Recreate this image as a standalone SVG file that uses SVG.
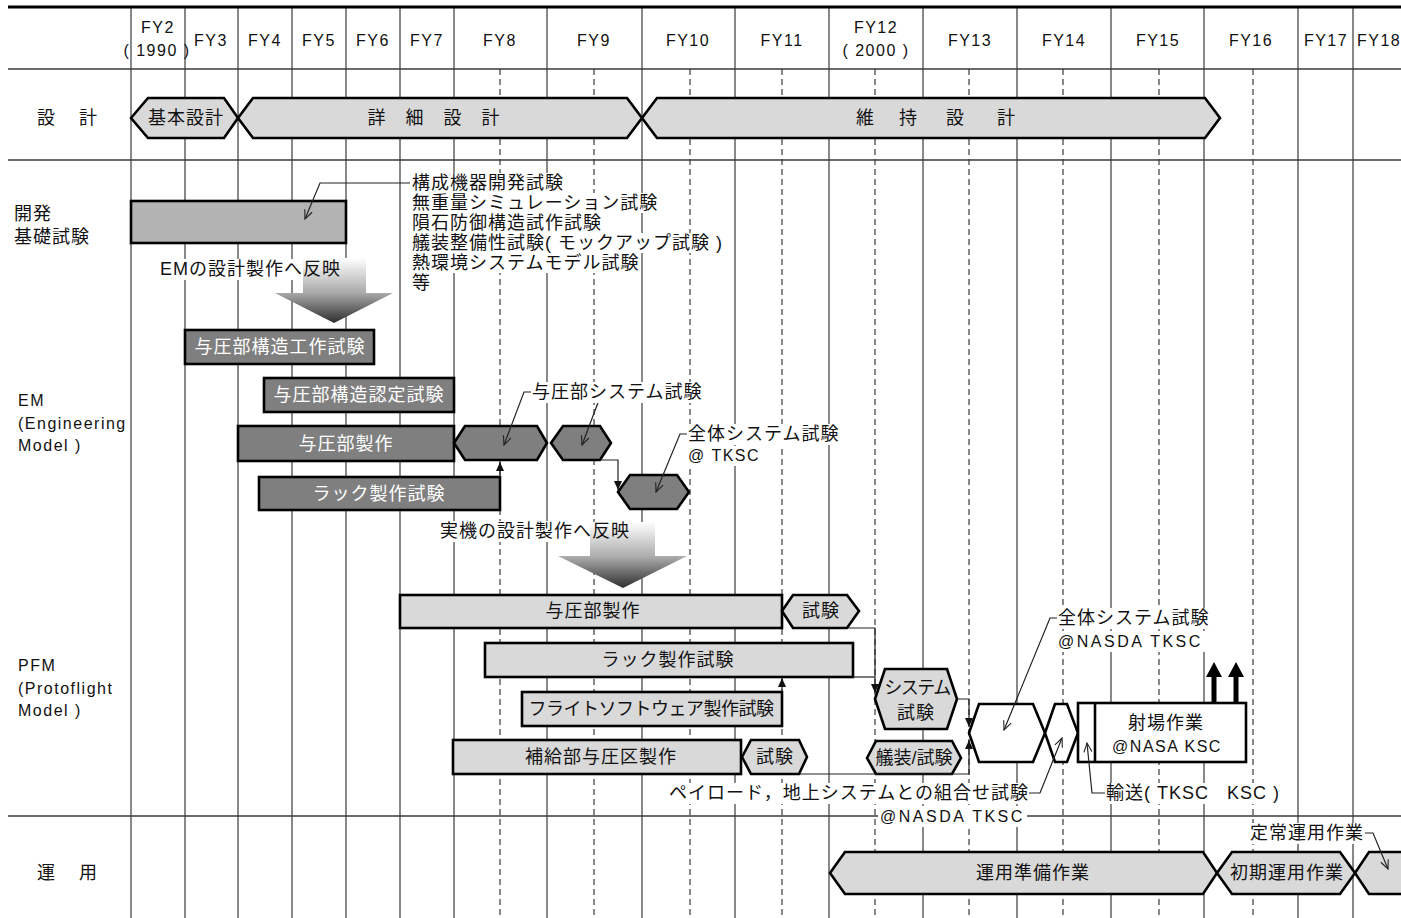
<svg xmlns="http://www.w3.org/2000/svg" width="1401" height="918" viewBox="0 0 1401 918">
<defs>
<style>
.g{stroke:#3a3a3a;stroke-width:1.2}
.d{stroke:#3a3a3a;stroke-width:1.2;stroke-dasharray:6 4}
.sep{stroke:#3a3a3a;stroke-width:1.5}
.n{stroke:#000;stroke-width:2.6;stroke-linejoin:miter}
.f1{fill:#d9d9d9}
.f2{fill:#b3b3b3}
.f3{fill:#7f7f7f}
.f4{fill:#fff}
text{font-family:"Liberation Sans","Noto Sans CJK JP",sans-serif;font-size:18px;letter-spacing:1px;fill:#111}
.h{font-size:16px;letter-spacing:1.5px}
.wide{letter-spacing:2.5px}
.m{text-anchor:middle}
.e{text-anchor:end}
.w{fill:#fff}
.bgr{fill:#fff}
.c{fill:none;stroke:#222;stroke-width:1.2}
.oa{marker-end:url(#open)}
.fa{marker-end:url(#solid)}
</style>
<linearGradient id="grad" x1="0" y1="0" x2="0" y2="1"><stop offset="0" stop-color="#fff"/><stop offset="0.53" stop-color="#ababab"/><stop offset="1" stop-color="#2e2e2e"/></linearGradient>
<marker id="open" markerUnits="userSpaceOnUse" markerWidth="12" markerHeight="12" refX="10" refY="5" orient="auto"><path d="M1,1 L10,5 L1,9" fill="none" stroke="#222" stroke-width="1.1"/></marker>
<marker id="solid" markerUnits="userSpaceOnUse" markerWidth="10" markerHeight="8" refX="9" refY="4" orient="auto"><path d="M0,0 L9,4 L0,8 z" fill="#111"/></marker>
</defs>
<rect width="1401" height="918" fill="#fff"/>
<g id="grid">
<line class="g" x1="131" y1="7" x2="131" y2="918"/>
<line class="g" x1="185" y1="7" x2="185" y2="918"/>
<line class="g" x1="238" y1="7" x2="238" y2="918"/>
<line class="g" x1="292" y1="7" x2="292" y2="918"/>
<line class="g" x1="346" y1="7" x2="346" y2="918"/>
<line class="g" x1="400" y1="7" x2="400" y2="918"/>
<line class="g" x1="454" y1="7" x2="454" y2="918"/>
<line class="g" x1="547" y1="7" x2="547" y2="918"/>
<line class="g" x1="642" y1="7" x2="642" y2="918"/>
<line class="g" x1="735" y1="7" x2="735" y2="918"/>
<line class="g" x1="829" y1="7" x2="829" y2="918"/>
<line class="g" x1="923" y1="7" x2="923" y2="918"/>
<line class="g" x1="1017" y1="7" x2="1017" y2="918"/>
<line class="g" x1="1111" y1="7" x2="1111" y2="918"/>
<line class="g" x1="1204" y1="7" x2="1204" y2="918"/>
<line class="g" x1="1298" y1="7" x2="1298" y2="918"/>
<line class="g" x1="1353" y1="7" x2="1353" y2="918"/>
<line class="d" x1="500" y1="69" x2="500" y2="918"/>
<line class="d" x1="594" y1="69" x2="594" y2="918"/>
<line class="d" x1="690" y1="69" x2="690" y2="918"/>
<line class="d" x1="782" y1="69" x2="782" y2="918"/>
<line class="d" x1="875" y1="69" x2="875" y2="918"/>
<line class="d" x1="969" y1="69" x2="969" y2="918"/>
<line class="d" x1="1063" y1="69" x2="1063" y2="918"/>
<line class="d" x1="1159" y1="69" x2="1159" y2="918"/>
<line class="d" x1="1253" y1="69" x2="1253" y2="918"/>
<line x1="8" y1="7" x2="1401" y2="7" stroke="#000" stroke-width="3"/>
<line class="sep" x1="8" y1="69" x2="1401" y2="69"/>
<line class="sep" x1="8" y1="160" x2="1401" y2="160"/>
<line class="sep" x1="8" y1="816" x2="1401" y2="816"/>
</g>
<g id="header">
<text class="h m" x="158" y="33">FY2</text>
<text class="h m" x="157" y="56">( 1990 )</text>
<text class="h m" x="211" y="46">FY3</text>
<text class="h m" x="265" y="46">FY4</text>
<text class="h m" x="319" y="46">FY5</text>
<text class="h m" x="373" y="46">FY6</text>
<text class="h m" x="427" y="46">FY7</text>
<text class="h m" x="500" y="46">FY8</text>
<text class="h m" x="594" y="46">FY9</text>
<text class="h m" x="688" y="46">FY10</text>
<text class="h m" x="782" y="46">FY11</text>
<text class="h m" x="876" y="33">FY12</text>
<text class="h m" x="876" y="56">( 2000 )</text>
<text class="h m" x="970" y="46">FY13</text>
<text class="h m" x="1064" y="46">FY14</text>
<text class="h m" x="1158" y="46">FY15</text>
<text class="h m" x="1251" y="46">FY16</text>
<text class="h m" x="1326" y="46">FY17</text>
<text class="h" x="1357" y="46">FY18</text>
</g>
<g id="row-labels">
<text x="37 79" y="124">設計</text>
<text x="14" y="220">開発</text>
<text x="14" y="243">基礎試験</text>
<text class="h" x="18" y="406">EM</text>
<text class="h" x="18" y="429">(Engineering</text>
<text class="h" x="18" y="451">Model )</text>
<text class="h" x="18" y="671">PFM</text>
<text class="h" x="18" y="694">(Protoflight</text>
<text class="h" x="18" y="716">Model )</text>
<text x="37 79" y="879">運用</text>
</g>
<g id="design-basic"><polygon class="n f1" points="131,118 148,98 224,98 238,118 224,138 148,138"/><text class="m" x="186" y="124">基本設計</text></g>
<g id="design-detail"><polygon class="n f1" points="238,118 253,98 627,98 642,118 627,138 253,138"/><text class="m" x="434" y="124">詳　細　設　計</text></g>
<g id="design-maint"><polygon class="n f1" points="642,118 657,98 1205,98 1220,118 1205,138 657,138"/><text x="856 899 946 997" y="124">維持設計</text></g>
<g id="dev-basic-test"><rect class="n f2" x="131" y="201" width="215" height="42"/></g>
<g id="arrow-em"><path d="M303,258 H366 V293 H393 L334,323 L275,293 H303 Z" fill="url(#grad)"/></g>
<g id="arrow-pfm"><path d="M590,522 H655 V556 H687 L623,588 L558,556 H590 Z" fill="url(#grad)"/></g>
<g id="em-struct-work"><rect class="n f3" x="185" y="330" width="189" height="34"/><text class="m w" x="280" y="353">与圧部構造工作試験</text></g>
<g id="em-struct-qual"><rect class="n f3" x="264" y="378" width="190" height="34"/><text class="m w" x="359" y="401">与圧部構造認定試験</text></g>
<g id="em-module"><rect class="n f3" x="238" y="426" width="216" height="35"/><text class="m w" x="346" y="450">与圧部製作</text></g>
<g id="em-rack"><rect class="n f3" x="259" y="477" width="241" height="33"/><text class="m w" x="379" y="500">ラック製作試験</text></g>
<g id="em-systest-1"><polygon class="n f3" points="454,443 465,426 537,426 547,443 537,460 465,460"/></g>
<g id="em-systest-2"><polygon class="n f3" points="551,443 563,426 600,426 611,443 600,460 563,460"/></g>
<g id="em-total-test"><polygon class="n f3" points="618,492 630,475 677,475 689,492 677,509 630,509"/></g>
<g id="pfm-module"><rect class="n f1" x="400" y="595" width="382" height="33"/><text class="m" x="593" y="617">与圧部製作</text></g>
<g id="pfm-module-test"><polygon class="n f1" points="782,611 793,595 847,595 859,611 847,628 793,628"/><text class="m" x="821" y="617">試験</text></g>
<g id="pfm-rack"><rect class="n f1" x="485" y="643" width="368" height="34"/><text class="m" x="668" y="666">ラック製作試験</text></g>
<g id="pfm-software"><rect class="n f1" x="522" y="692" width="260" height="34"/><text class="m" x="651" y="715" style="letter-spacing:-0.5px">フライトソフトウェア製作試験</text></g>
<g id="pfm-logistics"><rect class="n f1" x="453" y="740" width="288" height="34"/><text class="m" x="601" y="763">補給部与圧区製作</text></g>
<g id="pfm-logistics-test"><polygon class="n f1" points="742,757 751,740 799,740 807,757 799,774 751,774"/><text class="m" x="775" y="763">試験</text></g>
<g id="pfm-system-test"><polygon class="n f1" points="875,699 885,669 947,669 957,699 947,729 885,729"/><text class="m" x="917" y="694" style="letter-spacing:-1.5px">システム</text><text class="m" x="916" y="719">試験</text></g>
<g id="pfm-outfit-test"><polygon class="n f1" points="867,758 876,741 952,741 961,758 952,774 876,774"/><text class="m" x="914" y="764" style="letter-spacing:0">艤装/試験</text></g>
<g id="pfm-total-test"><polygon class="n f4" points="969,733 979,704 1033,704 1045,733 1033,762 979,762"/></g>
<g id="pfm-payload-test"><polygon class="n f4" points="1045,733 1055,704 1067,704 1078,733 1067,762 1055,762"/></g>
<g id="launch-site"><rect class="n f4" x="1078" y="703" width="168" height="59"/><line class="n" x1="1095" y1="703" x2="1095" y2="762"/><text class="m" x="1166" y="729">射場作業</text><text class="h m" x="1167" y="752">@NASA KSC</text>
<polygon points="1211.5,703 1211.5,677 1206,677 1214,662 1222,677 1216.5,677 1216.5,703" fill="#000"/>
<polygon points="1233.5,703 1233.5,677 1228,677 1236,662 1244,677 1238.5,677 1238.5,703" fill="#000"/></g>
<g id="ops-prep"><polygon class="n f1" points="830,873 845,852 1203,852 1217,873 1203,894 845,894"/><text class="m" x="1033" y="879">運用準備作業</text></g>
<g id="ops-initial"><polygon class="n f1" points="1217,873 1232,852 1340,852 1355,873 1340,894 1232,894"/><text class="m" x="1287" y="879">初期運用作業</text></g>
<g id="ops-routine"><polygon class="n f1" points="1355,873 1369,852 1412,852 1412,894 1369,894"/></g>
<g id="connectors">
<path class="c oa" d="M410,183 H320 L305,219"/>
<path class="c oa" d="M531,392 H524 L504,445"/>
<path class="c oa" d="M599,400 L582,445"/>
<path class="c oa" d="M687,434 H680 L656,492"/>
<path class="c fa" d="M600,460 H618 V490"/>
<path class="c fa" d="M500,477 V462"/>
<path class="c fa" d="M847,628 H875 V693"/>
<path class="c" d="M853,677 H875"/>
<path class="c fa" d="M782,692 V678"/>
<path class="c fa" d="M957,699 H969 V727"/>
<path class="c fa" d="M799,774 H969 V740"/>
<path class="c oa" d="M1057,618 H1050 L1004,730"/>
<path class="c oa" d="M1029,793 H1040 L1062,738"/>
<path class="c oa" d="M1105,793 H1092 L1087,743"/>
<path class="c oa" d="M1365,833 H1373 L1388,869"/>
</g>
<g id="labels">
<rect class="bgr" x="411" y="173" width="154" height="20"/><text x="412" y="189">構成機器開発試験</text>
<rect class="bgr" x="411" y="193" width="249" height="20"/><text x="412" y="209">無重量シミュレーション試験</text>
<rect class="bgr" x="411" y="213" width="192" height="20"/><text x="412" y="229">隕石防御構造試作試験</text>
<rect class="bgr" x="411" y="233" width="313" height="20"/><text x="412" y="249">艤装整備性試験( モックアップ試験 )</text>
<rect class="bgr" x="411" y="253" width="230" height="20"/><text x="412" y="269">熱環境システムモデル試験</text>
<rect class="bgr" x="411" y="273" width="21" height="20"/><text x="412" y="289">等</text>
<rect class="bgr" x="159" y="259" width="143" height="21"/><text x="160" y="275">EMの設計製作へ反映</text>
<rect class="bgr" x="531" y="382" width="173" height="21"/><text x="532" y="398">与圧部システム試験</text>
<rect class="bgr" x="687" y="424" width="154" height="21"/><text x="688" y="440">全体システム試験</text>
<rect class="bgr" x="687" y="446" width="75" height="20"/><text class="h" x="688" y="461">@ TKSC</text>
<rect class="bgr" x="439" y="521" width="150" height="21"/><text x="440" y="537">実機の設計製作へ反映</text>
<rect class="bgr" x="1057" y="608" width="154" height="21"/><text x="1058" y="624">全体システム試験</text>
<rect class="bgr" x="1057" y="631" width="148" height="21"/><text class="h wide" x="1058" y="647">@NASDA TKSC</text>
<rect class="bgr" x="666" y="783" width="363" height="21"/><text class="e" x="1029" y="799">ペイロード，地上システムとの組合せ試験</text>
<rect class="bgr" x="878" y="806" width="149" height="21"/><text class="h wide" x="880" y="822">@NASDA TKSC</text>
<rect class="bgr" x="1105" y="783" width="177" height="21"/><text x="1106" y="799" xml:space="preserve">輸送( TKSC   KSC )</text>
<rect class="bgr" x="1249" y="823" width="116" height="21"/><text x="1250" y="839">定常運用作業</text>
</g>
</svg>
